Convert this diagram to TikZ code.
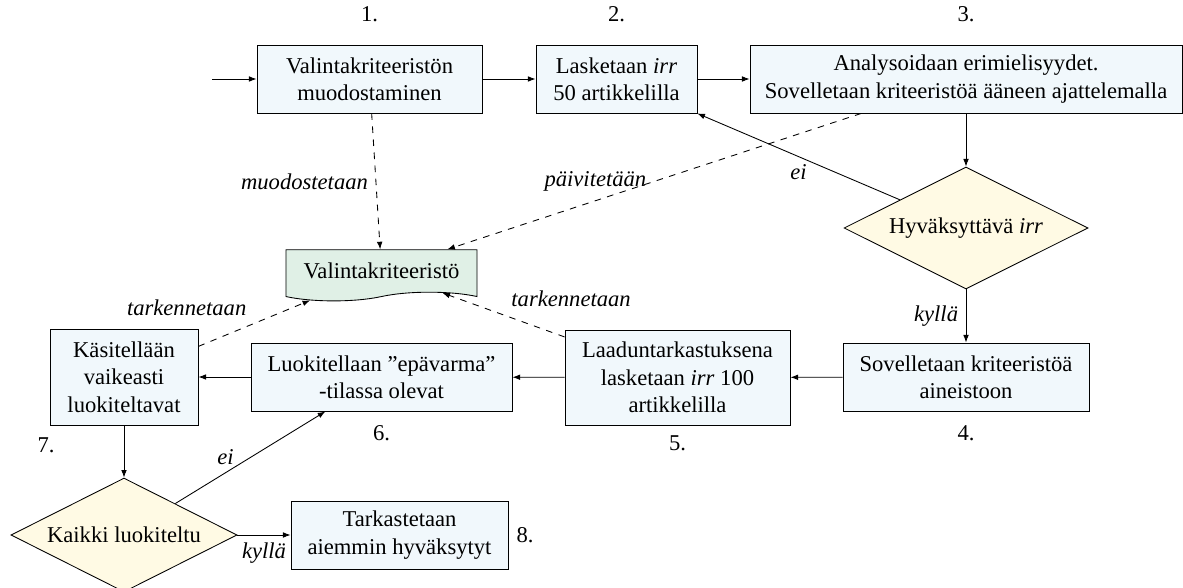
\documentclass[tikz,border=0pt]{standalone}
\usepackage{fontspec}
\setmainfont{Liberation Serif}
\usetikzlibrary{shapes.geometric,shapes.symbols,arrows.meta}

\definecolor{vaihevari}{RGB}{241,248,252}
\definecolor{ehtovari}{RGB}{255,250,228}
\definecolor{dokvari}{RGB}{224,240,230}

\tikzset{
  vaihe/.style={draw, fill=vaihevari, align=center, minimum height=31.3pt, inner sep=2pt},
  ehto/.style={draw, diamond, fill=ehtovari, aspect=2, inner sep=0pt},
  dokumentti/.style={draw, tape, tape bend top=none, tape bend height=4pt, fill=dokvari},
  nuoli/.style={-{Latex[length=3.5pt,width=2.6pt]}},
  katkonuoli/.style={nuoli, dashed},
  selite/.style={font=\itshape},
}

\begin{document}
\fontsize{10.4}{12.6}\selectfont
\begin{tikzpicture}[x=0.46pt,y=-0.46pt]
\useasboundingbox (0,0) rectangle (1183,588);
% ylarivi
\coordinate (alku) at (212,79);
\node[vaihe, minimum width=103.5pt] (valinta) at (369.5,79) {Valintakriteeristön\\muodostaminen};
\node[vaihe, minimum width=74.1pt] (laske) at (616.5,79) {Lasketaan \textit{irr}\\50 artikkelilla};
\node[vaihe, minimum width=198.7pt] (analys) at (966,79) {Analysoidaan erimielisyydet.\\Sovelletaan kriteeristöä ääneen ajattelemalla};
\node (n1) at (369.5,14) {1.};
\node (n2) at (616.5,14) {2.};
\node (n3) at (966,14) {3.};
% kriteeristo ja ehto
\node[dokumentti, minimum width=87.9pt, minimum height=23.5pt] (kriteeristo) at (381.5,271) {Valintakriteeristö};
\node[ehto, minimum width=112.2pt, minimum height=56.1pt] (hyv) at (966,228) {Hyväksyttävä \textit{irr}};
% keskirivi
\node[vaihe, minimum width=113.2pt] (sovella) at (966,377) {Sovelletaan kriteeristöä\\aineistoon};
\node[vaihe, minimum width=103.5pt, minimum height=43.7pt] (laatu) at (677.5,377.5) {Laaduntarkastuksena\\lasketaan \textit{irr} 100\\artikkelilla};
\node[vaihe, minimum width=120.1pt] (luok) at (381.5,377) {Luokitellaan ”epävarma”\\-tilassa olevat};
\node[vaihe, minimum width=68.1pt, minimum height=44.2pt] (kasit) at (124,377) {Käsitellään\\vaikeasti\\luokiteltavat};
\node (n4) at (966,433) {4.};
\node (n5) at (677.5,443) {5.};
\node (n6) at (381.5,433) {6.};
\node (n7) at (46,445) {7.};
% alarivi
\node[ehto, minimum width=104pt, minimum height=52.4pt] (kaikki) at (124,535) {Kaikki luokiteltu};
\node[vaihe, minimum width=99.8pt] (tark) at (399.5,535) {Tarkastetaan\\aiemmin hyväksytyt};
\node (n8) at (525,535) {8.};
% nuolet
\draw[nuoli] (alku) -- (valinta);
\draw[nuoli] (valinta) -- (laske);
\draw[nuoli] (laske) -- (analys);
\draw[nuoli] (analys) -- (hyv);
\draw[nuoli] (hyv) -- (laske) node[selite, midway, below] {ei};
\draw[nuoli] (hyv) -- (sovella) node[selite, midway, left] {kyllä};
\draw[nuoli] (sovella) -- (laatu);
\draw[nuoli] (laatu) -- (luok);
\draw[nuoli] (luok) -- (kasit);
\draw[nuoli] (kasit) -- (kaikki);
\draw[nuoli] (kaikki) -- (luok) node[selite, midway, left=4pt] {ei};
\draw[nuoli] (kaikki) -- (tark) node[selite, midway, below] {kyllä};
% katkoviivat
\draw[katkonuoli] (valinta) -- (kriteeristo) node[selite, midway, left] {muodostetaan};
\draw[katkonuoli] (analys) -- (kriteeristo) node[selite, midway, left] {päivitetään};
\draw[katkonuoli] (kasit) -- (kriteeristo) node[selite, midway, above left] {tarkennetaan};
\draw[katkonuoli] (laatu) -- (kriteeristo) node[selite, midway, above right] {tarkennetaan};
\end{tikzpicture}
\end{document}
